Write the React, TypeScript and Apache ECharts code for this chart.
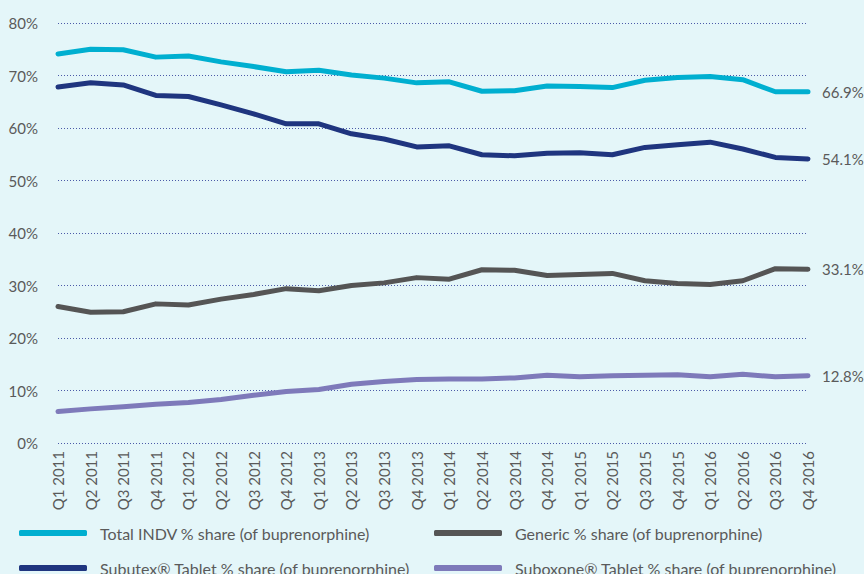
import React, { useEffect, useRef } from "react";
import * as echarts from "echarts";

const categories = [
  "Q1 2011", "Q2 2011", "Q3 2011", "Q4 2011",
  "Q1 2012", "Q2 2012", "Q3 2012", "Q4 2012",
  "Q1 2013", "Q2 2013", "Q3 2013", "Q4 2013",
  "Q1 2014", "Q2 2014", "Q3 2014", "Q4 2014",
  "Q1 2015", "Q2 2015", "Q3 2015", "Q4 2015",
  "Q1 2016", "Q2 2016", "Q3 2016", "Q4 2016",
];

const totalIndv = [74.1, 75.0, 74.9, 73.5, 73.7, 72.6, 71.7, 70.7, 71.0, 70.1, 69.5, 68.6, 68.8, 67.0, 67.1, 68.0, 67.9, 67.7, 69.1, 69.6, 69.8, 69.2, 66.9, 66.9];
const generic = [26.0, 24.9, 25.0, 26.5, 26.3, 27.4, 28.3, 29.4, 29.0, 30.0, 30.5, 31.5, 31.2, 33.0, 32.9, 31.9, 32.1, 32.3, 30.9, 30.4, 30.2, 30.9, 33.2, 33.1];
const subutex = [67.8, 68.6, 68.2, 66.2, 66.0, 64.4, 62.7, 60.8, 60.8, 58.9, 57.9, 56.4, 56.6, 54.9, 54.7, 55.2, 55.3, 54.9, 56.3, 56.8, 57.3, 56.0, 54.4, 54.1];
const suboxone = [6.0, 6.5, 6.9, 7.4, 7.7, 8.3, 9.1, 9.8, 10.2, 11.2, 11.7, 12.1, 12.2, 12.2, 12.4, 12.9, 12.6, 12.8, 12.9, 13.0, 12.6, 13.1, 12.6, 12.8];

const seriesNames = [
  "Total INDV % share (of buprenorphine)",
  "Generic % share (of buprenorphine)",
  "Subutex® Tablet % share (of buprenorphine)",
  "Suboxone® Tablet % share (of buprenorphine)",
];
const yTicks = [0, 10, 20, 30, 40, 50, 60, 70, 80];

const colors = ["#00afd0", "#555555", "#1f357f", "#7e7aba"];
const FONT = "Lato";
const TEXT = "#5a5a5a";

export default function App() {
  const ref = useRef<HTMLDivElement>(null);
  useEffect(() => {
    if (!ref.current) return;
    const chart = echarts.init(ref.current, null, { renderer: "svg" });
    const datasets = [totalIndv, generic, subutex, suboxone];
    const legendPos = [
      { left: 14, top: 520 },
      { left: 429, top: 520 },
      { left: 14, top: 555 },
      { left: 429, top: 555 },
    ];
    chart.setOption({
      animation: false,
      backgroundColor: "#e4f6f9",
      color: colors,
      textStyle: { fontFamily: FONT },
      grid: { left: 58, right: 56, top: 23, bottom: 131, containLabel: false },
      legend: seriesNames.map((n, i) => ({
        ...legendPos[i],
        orient: "horizontal",
        icon: "roundRect",
        itemWidth: 68,
        itemHeight: 6,
        data: [n],
        textStyle: {
          fontFamily: FONT,
          fontSize: 16,
          color: TEXT,
          padding: [0, 0, 0, 8],
        },
      })),
      xAxis: {
        type: "category",
        data: categories,
        boundaryGap: false,
        axisLine: { show: false },
        axisTick: { show: false },
        axisLabel: {
          rotate: 90,
          margin: 8,
          fontFamily: FONT,
          fontSize: 15,
          color: TEXT,
        },
      },
      yAxis: {
        type: "value",
        min: yTicks[0],
        max: yTicks[yTicks.length - 1],
        interval: 10,
        axisLine: { show: false },
        axisTick: { show: false },
        axisLabel: {
          formatter: "{value}%",
          margin: 20,
          fontFamily: FONT,
          fontSize: 15,
          color: TEXT,
        },
        splitLine: {
          lineStyle: { color: "#4b5aa8", width: 1, type: [1, 2] },
        },
      },
      series: datasets.map((d, i) => ({
        name: seriesNames[i],
        type: "line",
        data: d,
        symbol: "none",
        smooth: false,
        lineStyle: { width: 5, color: colors[i], cap: "round", join: "round" },
        itemStyle: { color: colors[i] },
        endLabel: {
          show: true,
          distance: 14,
          formatter: (p: any) => `${Number(p.value).toFixed(1)}%`,
          fontFamily: FONT,
          fontSize: 15,
          color: TEXT,
        },
      })),
    });
    return () => chart.dispose();
  }, []);
  return (
    <div
      ref={ref}
      style={{ position: "absolute", left: 0, top: 0, width: 864, height: 574 }}
    />
  );
}
